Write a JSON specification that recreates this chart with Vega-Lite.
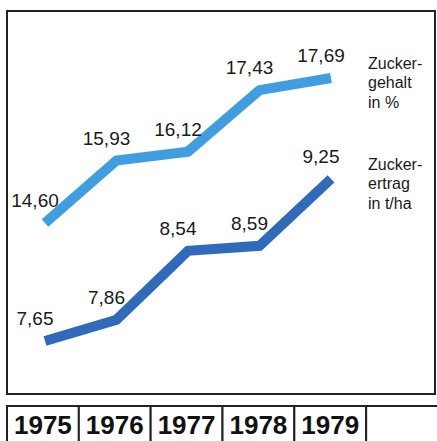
{
  "$schema": "https://vega.github.io/schema/vega-lite/v6.json",
  "padding": {"left": 6, "top": 10, "right": 0, "bottom": 0},
  "background": "white",
  "config": {
    "locale": {"number": {"decimal": ",", "thousands": ".", "grouping": [3], "currency": ["", " €"]}},
    "view": {"stroke": "#222", "strokeWidth": 2},
    "concat": {"spacing": 10}
  },
  "datasets": {
    "d": [
      {"year": 1975, "gehalt": 14.60, "ertrag": 7.65},
      {"year": 1976, "gehalt": 15.93, "ertrag": 7.86},
      {"year": 1977, "gehalt": 16.12, "ertrag": 8.54},
      {"year": 1978, "gehalt": 17.43, "ertrag": 8.59},
      {"year": 1979, "gehalt": 17.69, "ertrag": 9.25}
    ],
    "cells": [
      {"cell": "1975"}, {"cell": "1976"}, {"cell": "1977"}, {"cell": "1978"}, {"cell": "1979"}, {"cell": " "}
    ]
  },
  "spacing": 10,
  "vconcat": [
    {
      "width": 428,
      "height": 383,
      "data": {"name": "d"},
      "encoding": {
        "x": {"field": "year", "type": "quantitative", "scale": {"domain": [1974.4685, 1980.4545], "nice": false, "zero": false}, "axis": null}
      },
      "layer": [
        {
          "encoding": {
            "y": {"field": "gehalt", "type": "quantitative", "scale": {"domain": [10.952, 19.118], "nice": false, "zero": false}, "axis": null}
          },
          "layer": [
            {"mark": {"type": "line", "color": "#409ee0", "strokeWidth": 10, "strokeCap": "butt", "strokeJoin": "miter"}},
            {"mark": {"type": "text", "font": "Liberation Sans", "fontSize": 19, "color": "#1a1a1a", "dx": -10, "dy": -22, "baseline": "middle", "align": "center"},
             "encoding": {"text": {"field": "gehalt", "type": "quantitative", "format": ".2f"}}},
            {"transform": [{"filter": "datum.year == 1979"}],
             "mark": {"type": "text", "font": "Liberation Sans", "fontSize": 16, "color": "#1a1a1a", "dx": 37, "dy": -9, "align": "left", "baseline": "alphabetic", "lineHeight": 19.5,
                      "text": ["Zucker-", "gehalt", "in %"]}}
          ]
        },
        {
          "encoding": {
            "y": {"field": "ertrag", "type": "quantitative", "scale": {"domain": [7.126, 10.909], "nice": false, "zero": false}, "axis": null}
          },
          "layer": [
            {"mark": {"type": "line", "color": "#316aba", "strokeWidth": 10, "strokeCap": "butt", "strokeJoin": "miter"}},
            {"mark": {"type": "text", "font": "Liberation Sans", "fontSize": 19, "color": "#1a1a1a", "dx": -10, "dy": -22, "baseline": "middle", "align": "center"},
             "encoding": {"text": {"field": "ertrag", "type": "quantitative", "format": ".2f"}}},
            {"transform": [{"filter": "datum.year == 1979"}],
             "mark": {"type": "text", "font": "Liberation Sans", "fontSize": 16, "color": "#1a1a1a", "dx": 37, "dy": -9, "align": "left", "baseline": "alphabetic", "lineHeight": 19.5,
                      "text": ["Zucker-", "ertrag", "in t/ha"]}}
          ]
        }
      ],
      "resolve": {"scale": {"y": "independent"}}
    },
    {
      "width": 431,
      "height": 38,
      "view": {"stroke": null},
      "data": {"name": "cells"},
      "encoding": {
        "x": {"field": "cell", "type": "nominal", "sort": null, "scale": {"paddingInner": 0, "paddingOuter": 0}, "axis": null}
      },
      "layer": [
        {"mark": {"type": "bar", "fill": "white", "stroke": "#222", "strokeWidth": 2}},
        {"mark": {"type": "text", "font": "Liberation Sans", "fontWeight": "bold", "fontSize": 26, "color": "#111", "baseline": "middle", "align": "center", "dy": 1},
         "encoding": {"text": {"field": "cell", "type": "nominal"}}}
      ]
    }
  ]
}
